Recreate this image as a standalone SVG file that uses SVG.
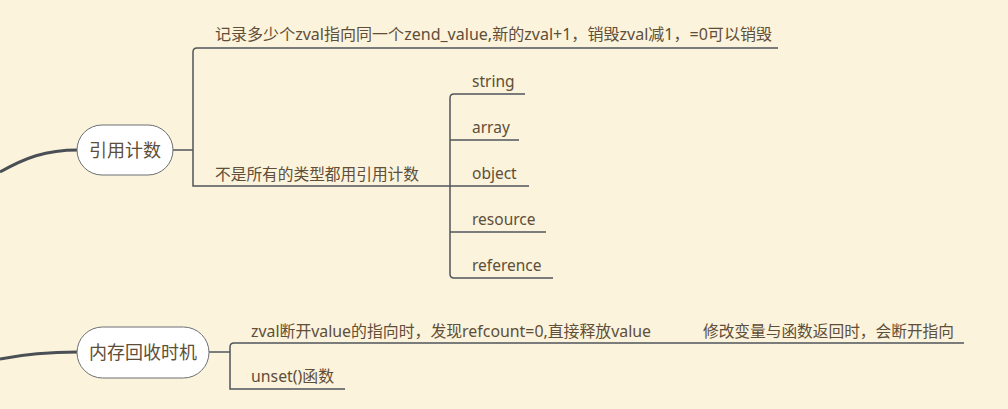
<svg xmlns="http://www.w3.org/2000/svg" width="1008" height="409" viewBox="0 0 1008 409">
<style>
.t{font-family:"Noto Sans","Noto Sans CJK SC",sans-serif;font-size:15.5px;fill:#604e38}
.n{font-family:"Noto Sans CJK SC","Noto Sans",sans-serif;font-size:18px;fill:#604e38;text-anchor:middle}
.box{fill:#ffffff;stroke:#6b6f74;stroke-width:1}
.ln{fill:none;stroke:#50565c;stroke-width:1.5}
.main{fill:none;stroke:#4a4f55;stroke-width:3}
</style>
<rect width="1008" height="409" fill="#fbf3dc"/>
<g id="connectors">
<path class="main" d="M0,172 C25,158 45,150 78,150"/>
<path class="main" d="M0,359 C25,354 45,352 78,352"/>
<path class="ln" d="M173,150 H193"/>
<path class="ln" d="M778,48 H197 Q193,48 193,52 V186 H450"/>
<path class="ln" d="M525,94 H454 Q450,94 450,98 V274 Q450,278 454,278 H553"/>
<path class="ln" d="M450,140 H519"/>
<path class="ln" d="M450,186 H529"/>
<path class="ln" d="M450,232 H546"/>
<path class="ln" d="M209,352 H230"/>
<path class="ln" d="M964,343 H234 Q230,343 230,347 V389 H345"/>
</g>
<g id="node-refcount">
<rect class="box" x="77" y="125" width="96" height="50" rx="25"/>
<text class="n" x="125" y="156.5">引用计数</text>
</g>
<g id="node-gc">
<rect class="box" x="77" y="327" width="132" height="51" rx="25.5"/>
<text class="n" x="143" y="359">内存回收时机</text>
</g>
<g id="label-record">
<text class="t" x="215" y="40" textLength="557" lengthAdjust="spacingAndGlyphs">记录多少个zval指向同一个zend_value,新的zval+1，销毁zval减1，=0可以销毁</text>
</g>
<g id="label-notall">
<text class="t" x="215" y="180" textLength="204" lengthAdjust="spacingAndGlyphs">不是所有的类型都用引用计数</text>
</g>
<g id="label-string"><text class="t" x="472" y="87">string</text></g>
<g id="label-array"><text class="t" x="472" y="133">array</text></g>
<g id="label-object"><text class="t" x="472" y="179">object</text></g>
<g id="label-resource"><text class="t" x="472" y="225">resource</text></g>
<g id="label-reference"><text class="t" x="472" y="271">reference</text></g>
<g id="label-break">
<text class="t" x="251" y="337" textLength="400" lengthAdjust="spacingAndGlyphs">zval断开value的指向时，发现refcount=0,直接释放value</text>
</g>
<g id="label-modify">
<text class="t" x="703" y="337" textLength="251" lengthAdjust="spacingAndGlyphs">修改变量与函数返回时，会断开指向</text>
</g>
<g id="label-unset">
<text class="t" x="251" y="382" textLength="83" lengthAdjust="spacingAndGlyphs">unset()函数</text>
</g>
</svg>
